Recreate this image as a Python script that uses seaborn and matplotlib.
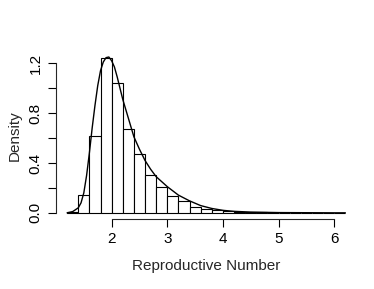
import numpy as np
import matplotlib
matplotlib.use("Agg")
import matplotlib.pyplot as plt
import seaborn as sns

# histogram bins (width 0.2) and densities
bin_edges = [1.2, 1.4, 1.6, 1.8, 2.0, 2.2, 2.4, 2.6, 2.8, 3.0, 3.2, 3.4, 3.6, 3.8,
             4.0, 4.2, 4.4, 4.6, 4.8, 5.0, 5.2, 5.4, 5.6, 5.8, 6.0, 6.2]
bin_density = [0.004, 0.142, 0.62, 1.24, 1.04, 0.67, 0.47, 0.30, 0.205, 0.138, 0.093,
               0.048, 0.032, 0.019, 0.012, 0.008, 0.005, 0.004, 0.002, 0.001, 0.001,
               0.0, 0.0, 0.0, 0.0]

# density curve
curve_x = [1.2, 1.3, 1.4, 1.45, 1.5, 1.55, 1.6, 1.65, 1.7, 1.75, 1.8, 1.85, 1.9, 1.95,
           2.0, 2.05, 2.1, 2.2, 2.3, 2.4, 2.5, 2.6, 2.7, 2.8, 2.9, 3.0, 3.2, 3.4, 3.6,
           3.8, 4.0, 4.2, 4.5, 5.0, 5.5, 6.0, 6.2]
curve_y = [0.0, 0.01, 0.04, 0.08, 0.16, 0.3, 0.48, 0.68, 0.86, 1.02, 1.14, 1.21, 1.245,
           1.25, 1.22, 1.17, 1.09, 0.91, 0.76, 0.61, 0.51, 0.42, 0.35, 0.29, 0.25, 0.21,
           0.142, 0.096, 0.058, 0.035, 0.02, 0.012, 0.006, 0.002, 0.001, 0.0, 0.0]

centers = [(a + b) / 2 for a, b in zip(bin_edges[:-1], bin_edges[1:])]

sns.set_style("ticks")
plt.rcParams['font.family'] = ['Liberation Sans', 'DejaVu Sans']

fig = plt.figure(figsize=(3.74, 2.89), dpi=100)
ax = fig.add_axes([0.1497, 0.242, 0.8035, 0.578])

sns.histplot(x=centers, weights=bin_density, bins=bin_edges, stat='count',
             color='white', edgecolor='black', linewidth=0.8, alpha=1, ax=ax)
sns.lineplot(x=curve_x, y=curve_y, color='black', linewidth=1.0, ax=ax)

ax.set_xlim(1.0, 6.4)
ax.set_ylim(-0.05, 1.29)
ax.set_xticks([2, 3, 4, 5, 6])
ax.set_yticks([0, 0.2, 0.4, 0.6, 0.8, 1.0, 1.2])
ax.set_yticklabels(['0.0', '', '0.4', '', '0.8', '', '1.2'], rotation=90, va='center')
ax.tick_params(axis='both', labelsize=11, length=5.5, width=0.8, pad=4, colors='black')
for s in ['top', 'right']:
    ax.spines[s].set_visible(False)
ax.spines['left'].set_bounds(0, 1.2)
ax.spines['bottom'].set_bounds(2, 6)
ax.spines['left'].set_linewidth(0.8)
ax.spines['bottom'].set_linewidth(0.8)
ax.set_xlabel('Reproductive Number', fontsize=11, labelpad=9)
ax.set_ylabel('Density', fontsize=11, labelpad=5)

fig.savefig('out.png', dpi=100)
